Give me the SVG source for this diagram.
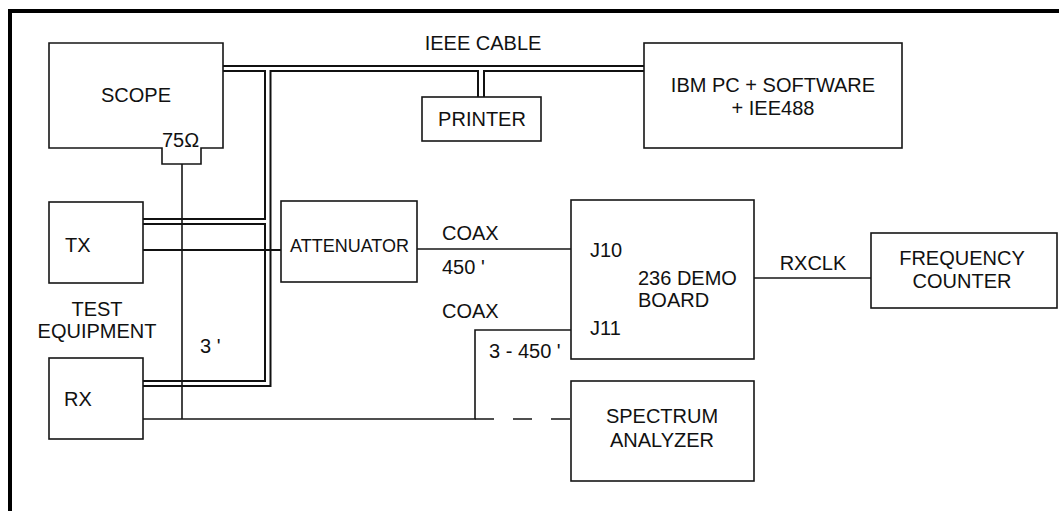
<svg xmlns="http://www.w3.org/2000/svg" width="1059" height="511" viewBox="0 0 1059 511">
<style>
.box{fill:none;stroke:#161616;stroke-width:1.6}
.cab{fill:none;stroke:#111;stroke-width:2}
.ln{fill:none;stroke:#161616;stroke-width:1.6}
text{font-family:"Liberation Sans",Arial,sans-serif;font-size:20px;fill:#111}
.c{text-anchor:middle}
</style>
<rect width="1059" height="511" fill="#fff"/>
<path d="M10 511 V11 H1059" fill="none" stroke="#000" stroke-width="4"/>
<g id="connectors">
<path class="cab" d="M223 66 H644"/>
<path class="cab" d="M223 71 H265 V219 H143"/>
<path class="cab" d="M143 386 H270.5 V71 H478 V97"/>
<path class="cab" d="M484 97 V71 H644"/>
<path class="cab" d="M143 224 H265 V381 H143"/>
<path class="cab" d="M143 250 H281"/>
<path class="ln" d="M417 249 H571"/>
<path class="ln" d="M182 164 V419"/>
<path class="ln" d="M143 419 H475 V330 H571"/>
<path class="ln" d="M475 419 H571" stroke-dasharray="19 19" stroke-width="1.2"/>
<path class="ln" d="M754 278 H871"/>
</g>
<g id="scope">
<path class="box" d="M49 43 H223 V148 H201 V164 H162 V148 H49 Z"/>
<text class="c" x="136" y="102">SCOPE</text>
<text x="162" y="147">75Ω</text>
</g>
<g id="printer">
<rect class="box" x="422" y="97" width="119" height="44"/>
<text class="c" x="482" y="126">PRINTER</text>
</g>
<g id="ibmpc">
<rect class="box" x="644" y="43" width="258" height="105"/>
<text class="c" x="773" y="92">IBM PC + SOFTWARE</text>
<text class="c" x="773" y="115">+ IEE488</text>
</g>
<g id="tx">
<rect class="box" x="49" y="202" width="94" height="81"/>
<text x="65" y="252">TX</text>
</g>
<g id="rx">
<rect class="box" x="49" y="358" width="94" height="81"/>
<text x="64" y="406">RX</text>
</g>
<g id="attenuator">
<rect class="box" x="281" y="201" width="136" height="81"/>
<text x="290" y="252" style="font-size:18px">ATTENUATOR</text>
</g>
<g id="demoboard">
<rect class="box" x="571" y="200" width="183" height="159"/>
<text x="590" y="257">J10</text>
<text x="590" y="335">J11</text>
<text x="638" y="285">236 DEMO</text>
<text x="638" y="307">BOARD</text>
</g>
<g id="freqcounter">
<rect class="box" x="871" y="233" width="186" height="75"/>
<text class="c" x="962" y="265">FREQUENCY</text>
<text class="c" x="962" y="288">COUNTER</text>
</g>
<g id="spectrum">
<rect class="box" x="571" y="381" width="183" height="100"/>
<text class="c" x="662" y="423">SPECTRUM</text>
<text class="c" x="662" y="447">ANALYZER</text>
</g>
<g id="labels">
<text class="c" x="483" y="50">IEEE CABLE</text>
<text class="c" x="97" y="316">TEST</text>
<text class="c" x="97" y="338">EQUIPMENT</text>
<text x="200" y="353">3 '</text>
<text x="442" y="240">COAX</text>
<text x="442" y="274">450 '</text>
<text x="442" y="318">COAX</text>
<text x="489" y="358">3 - 450 '</text>
<text class="c" x="813" y="270">RXCLK</text>
</g>
</svg>
